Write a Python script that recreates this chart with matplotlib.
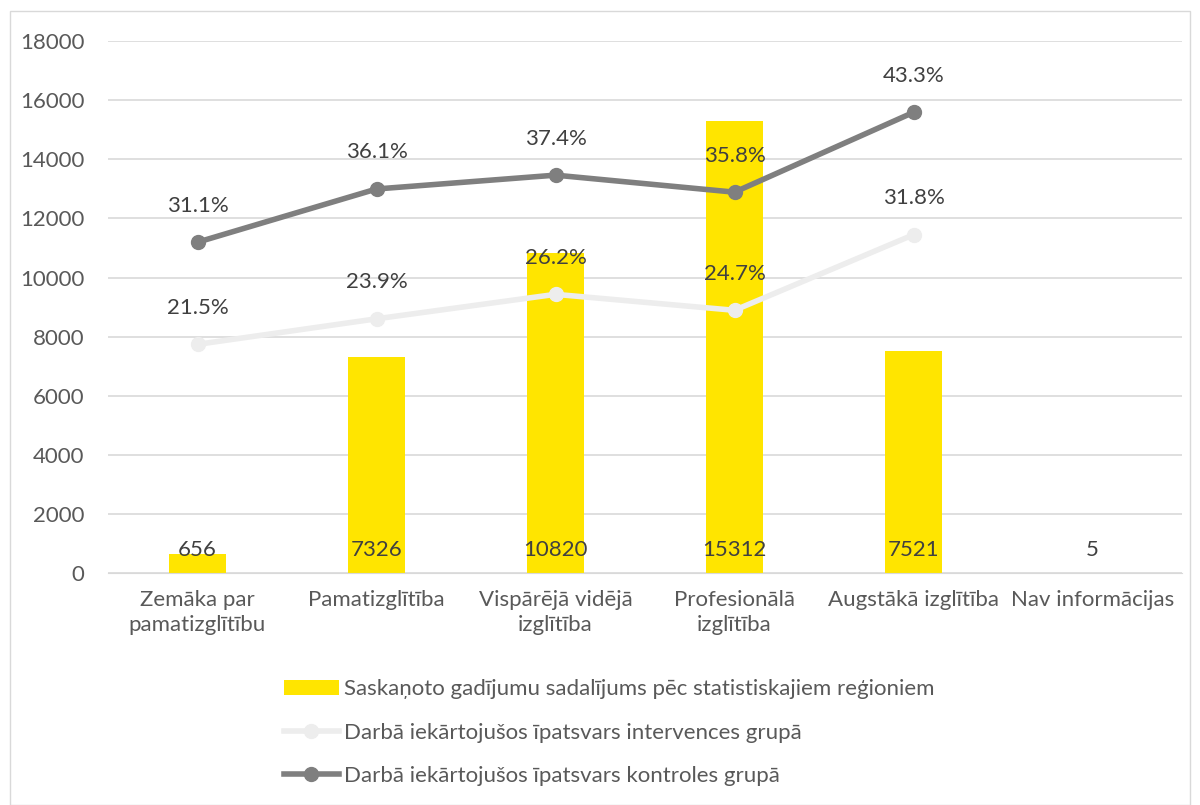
import matplotlib.pyplot as plt
from matplotlib.patches import Rectangle
import numpy as np

# ---------- DATA ----------
categories = ["Zemāka par\npamatizglītību", "Pamatizglītība", "Vispārējā vidējā\nizglītība",
              "Profesionālā\nizglītība", "Augstākā izglītība", "Nav informācijas"]
bar_values = [656, 7326, 10820, 15312, 7521, 5]
intervention = [0.215, 0.239, 0.262, 0.247, 0.318]
control = [0.311, 0.361, 0.374, 0.358, 0.433]

bar_label = "Saskaņoto gadījumu sadalījums pēc statistiskajiem reģioniem"
int_label = "Darbā iekārtojušos īpatsvars intervences grupā"
ctl_label = "Darbā iekārtojušos īpatsvars kontroles grupā"

# ---------- STYLE ----------
plt.rcParams['font.family'] = ['Lato', 'DejaVu Sans']
text_col = "#595959"
yellow = "#FFE500"
dark = "#7F7F7F"
light = "#EDEDED"
fs = 16

fig = plt.figure(figsize=(12, 8.05), dpi=100)
fig.patches.append(Rectangle((0.008, 0.0), 0.984, 0.986, transform=fig.transFigure,
                             fill=False, edgecolor="#D9D9D9", linewidth=1))

ax = fig.add_axes([0.09, 0.288, 0.895, 0.661])
x = np.arange(len(categories))

bars = ax.bar(x, bar_values, width=0.32, color=yellow, zorder=2, label=bar_label)
for xi, v in zip(x, bar_values):
    ax.text(xi, 450, str(v), ha="center", va="bottom", fontsize=fs, color="#404040", zorder=5)

ax.set_ylim(0, 18000)
ax.set_xlim(-0.5, len(categories) - 0.5)
ax.set_yticks(range(0, 18001, 2000))
ax.grid(axis="y", color="#D9D9D9", linewidth=1.2, zorder=0)
ax.set_axisbelow(True)
for s in ax.spines.values():
    s.set_visible(False)
ax.spines["bottom"].set_visible(True)
ax.spines["bottom"].set_color("#D9D9D9")
ax.tick_params(axis="both", length=0, labelsize=fs, colors=text_col)
ax.tick_params(axis="y", pad=17)
ax.tick_params(axis="x", pad=12)
ax.set_xticks(x)
ax.set_xticklabels(categories, linespacing=1.35)

# percentages on a hidden second axis (0-50%)
ax2 = ax.twinx()
ax2.set_ylim(0, 0.5)
ax2.axis("off")
xl = x[:len(control)]
l1, = ax2.plot(xl, intervention, color=light, linewidth=4, marker="o", markersize=10,
               label=int_label, zorder=3)
l2, = ax2.plot(xl, control, color=dark, linewidth=4, marker="o", markersize=10,
               label=ctl_label, zorder=4)
for xi, v in zip(xl, intervention):
    ax2.text(xi, v + 0.025, f"{v*100:.1f}%", ha="center", va="bottom", fontsize=fs, color="#404040")
for xi, v in zip(xl, control):
    ax2.text(xi, v + 0.025, f"{v*100:.1f}%", ha="center", va="bottom", fontsize=fs, color="#404040")

fig.legend([bars, l1, l2], [bar_label, int_label, ctl_label], loc="upper left",
           bbox_to_anchor=(0.229, 0.167), frameon=False, fontsize=fs, labelcolor=text_col,
           labelspacing=1.05, handlelength=2.5, handletextpad=0.2, borderaxespad=0)

fig.savefig("out.png", dpi=100)
